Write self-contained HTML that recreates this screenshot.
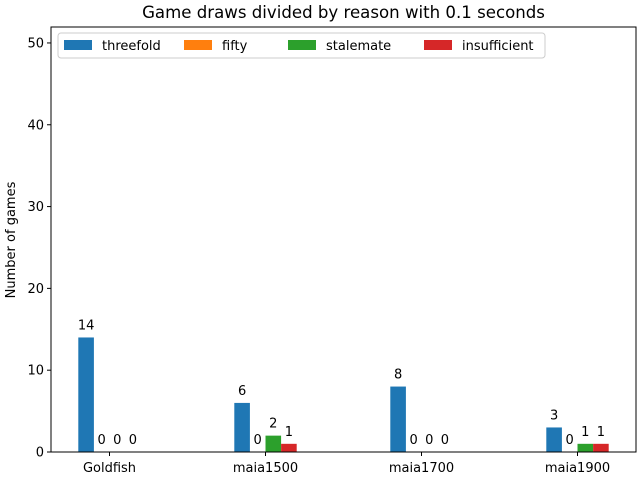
<!DOCTYPE html>
<html><head><meta charset="utf-8"><style>
body{margin:0;background:#fff;font-family:"Liberation Sans","DejaVu Sans",sans-serif;}
svg text{font-family:"DejaVu Sans","Liberation Sans",sans-serif;}
</style></head><body>
<svg id="chart" width="640" height="480" xmlns="http://www.w3.org/2000/svg">
<text x="343.5" y="18" font-size="16.6" text-anchor="middle">Game draws divided by reason with 0.1 seconds</text>
<text transform="translate(15,240) rotate(-90)" font-size="13" text-anchor="middle">Number of games</text>
<g id="plot"></g>
<rect x="51" y="27" width="585" height="425" fill="none" stroke="#000" stroke-width="1"/>
<g id="legend">
<rect x="58" y="33" width="487" height="25" rx="3" fill="#fff" fill-opacity="0.8" stroke="#ccc"/>
</g>
</svg>
<script>
const categories=["Goldfish","maia1500","maia1700","maia1900"];
const seriesNames=["threefold","fifty","stalemate","insufficient"];
const threefold=[14,6,8,3];
const fifty=[0,0,0,0];
const stalemate=[0,2,0,1];
const insufficient=[0,1,0,1];
const yTicks=[0,10,20,30,40,50];
const colors=["#1f77b4","#ff7f0e","#2ca02c","#d62728"];
const series=[threefold,fifty,stalemate,insufficient];
const NS="http://www.w3.org/2000/svg";
const L=51,R=636,T=27,B=452,yMax=51.95;
const y=v=>B-v/yMax*(B-T);
const x=i=>L+(i+0.375)/3.75*(R-L);
const bw=15.6;
const plot=document.getElementById('plot');
function mk(tag,attrs,parent){const e=document.createElementNS(NS,tag);for(const k in attrs)e.setAttribute(k,attrs[k]);parent.appendChild(e);return e;}
yTicks.forEach(t=>{
  const ln=mk('line',{x1:L-4,x2:L,y1:y(t),y2:y(t),stroke:'#000'},plot);
  
  
  const tx=mk('text',{x:L-7,y:y(t)+4.5,'font-size':13,'text-anchor':'end'},plot);
  tx.textContent=t;
  
  
});
categories.forEach((c,i)=>{
  const ln=mk('line',{x1:x(i),x2:x(i),y1:B,y2:B+4,stroke:'#000'},plot);
  
  
  const tx=mk('text',{x:x(i),y:B+20,'font-size':13,'text-anchor':'middle'},plot);
  tx.textContent=c;
  
  
  series.forEach((s,j)=>{
    const cx=x(i)+(j-1.5)*bw;
    const r=mk('rect',{x:cx-bw/2,y:y(s[i]),width:bw,height:B-y(s[i]),fill:colors[j]},plot);
    
    
    const lt=mk('text',{x:cx,y:y(s[i])-8,'font-size':13,'text-anchor':'middle'},plot);
    lt.textContent=s[i];
    
    
  });
});
const leg=document.getElementById('legend');
const lx=[64,184,288,424];
seriesNames.forEach((n,j)=>{
  const r=mk('rect',{x:lx[j],y:40,width:28,height:10,fill:colors[j]},leg);
  
  
  const t=mk('text',{x:lx[j]+38,y:50,'font-size':13},leg);
  t.textContent=n;
  
  
});
</script>
</body></html>
